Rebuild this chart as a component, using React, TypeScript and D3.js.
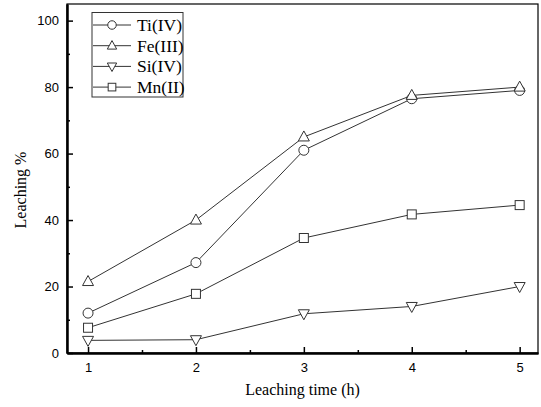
import React, { useRef, useEffect } from 'react'
import * as d3 from 'd3'

const hours = [1, 2, 3, 4, 5]
const ti = [12, 27.2, 61, 76.5, 79]
const fe = [21.5, 40, 65, 77.5, 80]
const si = [3.8, 4, 11.8, 14, 20]
const mn = [7.6, 17.8, 34.6, 41.7, 44.5]
const seriesNames = ['Ti(IV)', 'Fe(III)', 'Si(IV)', 'Mn(II)']
const yTicks = [0, 20, 40, 60, 80, 100]

const App = () => {
    const svgRef = useRef<SVGSVGElement>(null)

    useEffect(() => {
        const svg = d3.select(svgRef.current)
        svg.selectAll('*').remove()

        const left = 67, right = 538, top = 4, bottom = 353
        const x = d3.scaleLinear().domain([0.805, 5.17]).range([left, right])
        const y = d3.scaleLinear().domain([0, 105]).range([bottom, top])

        // frame
        svg.append('rect')
            .attr('x', left).attr('y', top)
            .attr('width', right - left).attr('height', bottom - top)
            .attr('fill', 'none').attr('stroke', '#000').attr('stroke-width', 1.2)

        const xAxis = d3.axisBottom(x).tickValues(hours).tickSizeInner(-6).tickSizeOuter(0).tickFormat(d3.format('d'))
        const gx = svg.append('g').attr('transform', `translate(0,${bottom})`).call(xAxis)
        gx.selectAll('text').attr('dy', '0').attr('y', 19)
        const xMinor = d3.axisBottom(x).tickValues([1.5, 2.5, 3.5, 4.5]).tickSizeInner(-3).tickSizeOuter(0).tickFormat(() => '')
        svg.append('g').attr('transform', `translate(0,${bottom})`).call(xMinor)

        const yAxis = d3.axisLeft(y).tickValues(yTicks).tickSizeInner(-6).tickSizeOuter(0)
        const gy = svg.append('g').attr('transform', `translate(${left},0)`).call(yAxis)
        gy.selectAll('text').attr('x', -8)
        const yMinor = d3.axisLeft(y).tickValues([10, 30, 50, 70, 90]).tickSizeInner(-3).tickSizeOuter(0).tickFormat(() => '')
        svg.append('g').attr('transform', `translate(${left},0)`).call(yMinor)

        svg.selectAll('.domain').attr('stroke', '#000').attr('stroke-width', 2)
        svg.selectAll('.tick line').attr('stroke', '#000').attr('stroke-width', 1.5)
        svg.selectAll('.tick text')
            .attr('font-family', 'Liberation Sans, Arial, sans-serif')
            .attr('font-size', 13)
            .attr('fill', '#000')

        const lineGen = d3.line<number>()
            .x((d, i) => x(hours[i]))
            .y(d => y(d))

        const all = [ti, fe, si, mn]
        const shapes = ['circle', 'up', 'down', 'square']

        const drawMarker = (g: any, shape: string, cx: number, cy: number, s = 1) => {
            if (shape === 'circle') {
                g.append('circle').attr('cx', cx).attr('cy', cy).attr('r', 5 * s)
                    .attr('fill', '#fff').attr('stroke', '#333').attr('stroke-width', 1)
            } else if (shape === 'square') {
                g.append('rect').attr('x', cx - 4.5 * s).attr('y', cy - 4.5 * s).attr('width', 9 * s).attr('height', 9 * s)
                    .attr('fill', '#fff').attr('stroke', '#333').attr('stroke-width', 1)
            } else {
                const dir = shape === 'up' ? 1 : -1
                const pts = [[cx, cy - dir * 6 * s], [cx - 5.5 * s, cy + dir * 4 * s], [cx + 5.5 * s, cy + dir * 4 * s]]
                g.append('polygon').attr('points', pts.map(p => p.join(',')).join(' '))
                    .attr('fill', '#fff').attr('stroke', '#333').attr('stroke-width', 1)
            }
        }

        all.forEach((vals) => {
            svg.append('path')
                .datum(vals)
                .attr('d', lineGen)
                .attr('fill', 'none')
                .attr('stroke', '#333')
                .attr('stroke-width', 1)
        })
        all.forEach((vals, k) => {
            const g = svg.append('g')
            vals.forEach((v, i) => drawMarker(g, shapes[k], x(hours[i]), y(v)))
        })

        // legend
        const lg = svg.append('g')
        lg.append('rect').attr('x', 92).attr('y', 12.5).attr('width', 91).attr('height', 84.5)
            .attr('fill', '#fff').attr('stroke', '#333').attr('stroke-width', 1)
        seriesNames.forEach((name, k) => {
            const ly = 25 + k * 20.7
            lg.append('line').attr('x1', 93).attr('x2', 131).attr('y1', ly).attr('y2', ly)
                .attr('stroke', '#333').attr('stroke-width', 1)
            drawMarker(lg, shapes[k], 112, ly, 0.85)
            lg.append('text').attr('x', 137).attr('y', ly + 6)
                .attr('font-family', 'Liberation Serif, Times New Roman, serif')
                .attr('font-size', 17.5).attr('fill', '#000')
                .attr('textLength', name === 'Ti(IV)' || name === 'Mn(II)' || name === 'Fe(III)' ? null : null)
                .text(name)
        })

        svg.append('text')
            .attr('x', (left + right) / 2).attr('y', 395)
            .attr('text-anchor', 'middle')
            .attr('font-family', 'Liberation Serif, Times New Roman, serif')
            .attr('font-size', 16).attr('fill', '#000')
            .text('Leaching time (h)')

        svg.append('text')
            .attr('transform', `translate(26,190) rotate(-90)`)
            .attr('text-anchor', 'middle')
            .attr('font-family', 'Liberation Serif, Times New Roman, serif')
            .attr('font-size', 16).attr('fill', '#000')
            .text('Leaching %')
    }, [])

    return (
        <svg width={541} height={407} ref={svgRef} style={{ position: 'absolute', left: 0, top: 0, background: '#fff' }} />
    )
}

export default App
